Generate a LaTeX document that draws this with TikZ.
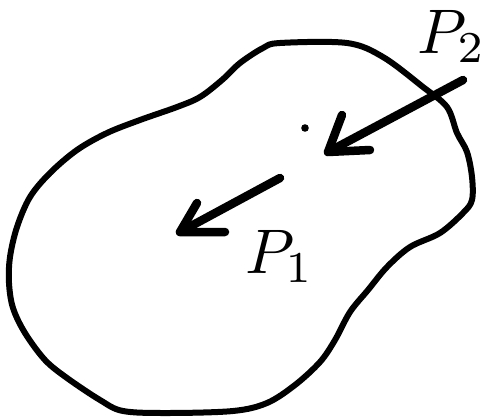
\documentclass[tikz,border=0pt]{standalone}
\begin{document}
\begin{tikzpicture}[x=1pt,y=-1pt,
  blob/.style={line width=6pt,line join=round,line cap=round},
  vec/.style={line width=8.5pt,line cap=round,line join=round},
  lbl/.style={inner sep=0pt,scale=6.3,anchor=base west}]
\useasboundingbox (0,0) rectangle (485,418);
\draw[blob] plot[smooth cycle,tension=0.55] coordinates {
(280,43) (347,43) (383,57) (423,87) (447,107) (457,133) (467,152) (472,177)
(472,200) (463,213) (440,233) (410,247) (387,267) (368,290) (350,312) (335,340)
(320,362) (295,385) (267,403) (233,411) (167,413) (123,411) (100,400) (67,378)
(45,360) (25,333) (13,308) (9,283) (10,257) (17,227) (30,197) (50,173) (77,150)
(107,133) (140,120) (177,107) (200,97) (222,80) (240,63) (263,48)};
% dot
\fill (305,128) circle (3.8);
% P2 vector
\coordinate (s2) at (463,80);
\coordinate (t2) at (328,152);
\coordinate (a2) at (342,115);
\coordinate (b2) at (370,150);
\draw[vec] (s2) -- (t2);
\draw[vec] (a2) -- (t2) -- (b2);
% P1 vector
\coordinate (s1) at (280,178);
\coordinate (t1) at (180,232);
\coordinate (a1) at (197,203);
\coordinate (b1) at (225,232);
\draw[vec] (s1) -- (t1);
\draw[vec] (a1) -- (t1) -- (b1);
% labels
\node[lbl] (L2) at (416,53) {$P_2$};
\node[lbl] (L1) at (244,273) {$P_1$};
\end{tikzpicture}
\end{document}
